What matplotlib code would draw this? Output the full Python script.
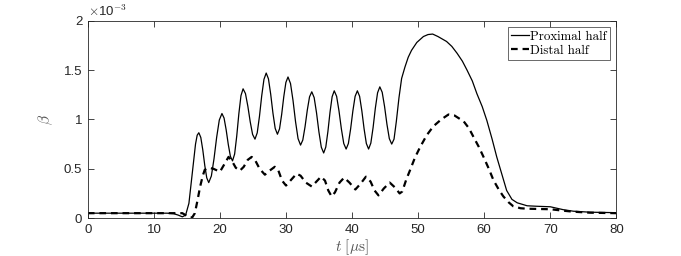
import matplotlib
matplotlib.use("Agg")
import matplotlib.pyplot as plt

# time [us] and beta [x1e-3]
t_prox = [0, 5, 10, 12, 13, 13.7, 14.3, 14.8, 15.3, 15.8, 16.3, 16.55, 16.8,
          17.1, 17.4, 17.7, 18.0, 18.3,
          18.7, 19.1, 19.5, 19.9, 20.3,
          20.62, 20.94, 21.26, 21.58, 21.9,
          22.22, 22.54, 22.86, 23.18, 23.5,
          23.86, 24.22, 24.58, 24.94, 25.3,
          25.64, 25.98, 26.32, 26.66, 27.0,
          27.34, 27.68, 28.02, 28.36, 28.7,
          29.02, 29.34, 29.66, 29.98, 30.3,
          30.68, 31.06, 31.44, 31.82, 32.2,
          32.54, 32.88, 33.22, 33.56, 33.9,
          34.26, 34.62, 34.98, 35.34, 35.7,
          36.02, 36.34, 36.66, 36.98, 37.3,
          37.66, 38.02, 38.38, 38.74, 39.1,
          39.44, 39.78, 40.12, 40.46, 40.8,
          41.14, 41.48, 41.82, 42.16, 42.5,
          42.84, 43.18, 43.52, 43.86, 44.2,
          44.56, 44.92, 45.28, 45.64, 46.0,
          46.35, 46.7, 47.1, 47.5, 48.0, 48.5,
          49.0, 49.8, 50.8, 51.5, 52.2, 53.0, 54.3, 55.1, 55.9, 56.7, 57.4, 58.2, 58.9, 59.7,
          60.4, 61.2, 61.9, 62.7, 63.4, 64.2, 65.0, 66.5, 68, 70, 72, 73.5, 76, 80]
b_prox = [0.05, 0.05, 0.05, 0.05, 0.045, 0.03, 0.013, 0.03, 0.15, 0.45, 0.75, 0.84, 0.865,
          0.817, 0.691, 0.534, 0.408, 0.36,
          0.427, 0.602, 0.819, 0.994, 1.06,
          1.014, 0.894, 0.746, 0.626, 0.58,
          0.649, 0.832, 1.058, 1.241, 1.31,
          1.262, 1.134, 0.976, 0.848, 0.80,
          0.864, 1.031, 1.239, 1.406, 1.47,
          1.411, 1.256, 1.064, 0.909, 0.85,
          0.905, 1.050, 1.230, 1.375, 1.43,
          1.364, 1.192, 0.978, 0.806, 0.74,
          0.791, 0.926, 1.094, 1.229, 1.28,
          1.221, 1.066, 0.874, 0.719, 0.66,
          0.720, 0.877, 1.073, 1.230, 1.29,
          1.234, 1.086, 0.904, 0.756, 0.70,
          0.756, 0.904, 1.086, 1.234, 1.29,
          1.234, 1.086, 0.904, 0.756, 0.70,
          0.760, 0.917, 1.113, 1.270, 1.33,
          1.275, 1.130, 0.950, 0.805, 0.75,
          0.80, 0.98, 1.22, 1.415, 1.53, 1.63,
          1.70, 1.78, 1.84, 1.86, 1.865, 1.84, 1.79, 1.74, 1.67, 1.59, 1.50, 1.39, 1.26, 1.13,
          0.99, 0.80, 0.62, 0.44, 0.28, 0.19, 0.155, 0.125, 0.12, 0.115, 0.085, 0.07, 0.06, 0.055]

t_dist = [0, 5, 10, 13, 14.3, 14.8, 15.2, 15.8, 16.2, 16.6, 17.0, 17.4, 17.7, 18.3, 19.0, 20.0,
          20.7, 21.3, 21.8, 22.4, 23.0, 23.6, 24.2, 24.8, 25.3, 26.0, 26.8, 27.5, 28.3, 28.8,
          29.4, 30.0, 30.8, 31.6, 32.2, 33.0, 33.9, 34.6, 35.3, 35.9, 36.4, 36.9, 37.4, 38.1,
          38.8, 39.6, 40.5, 41.3, 42.1, 42.8, 43.4, 44.0, 44.8, 45.7, 46.5, 47.2, 47.6, 48.2,
          48.8, 49.5, 50.3, 51.3, 52.3, 53.5, 54.6, 55.5, 56.2, 56.9, 57.7, 58.4, 59.2, 59.9,
          60.7, 61.4, 62.2, 62.9, 63.7, 64.4, 65.5, 66.5, 70, 72, 73.5, 76, 80]
b_dist = [0.05, 0.05, 0.05, 0.05, 0.05, 0.03, 0.01, 0.007, 0.05, 0.18, 0.32, 0.43, 0.49, 0.51, 0.50, 0.47,
          0.55, 0.62, 0.58, 0.51, 0.48, 0.52, 0.59, 0.62, 0.59, 0.50, 0.44, 0.48, 0.52, 0.49,
          0.38, 0.33, 0.39, 0.45, 0.43, 0.36, 0.32, 0.37, 0.42, 0.38, 0.28, 0.22, 0.26, 0.36,
          0.41, 0.36, 0.29, 0.35, 0.42, 0.37, 0.28, 0.23, 0.30, 0.36, 0.31, 0.25, 0.27, 0.39,
          0.49, 0.61, 0.72, 0.84, 0.93, 1.00, 1.05, 1.04, 1.01, 0.98, 0.91, 0.82, 0.72, 0.62,
          0.50, 0.385, 0.29, 0.22, 0.16, 0.12, 0.10, 0.095, 0.09, 0.075, 0.065, 0.055, 0.05]

xticks = [0, 10, 20, 30, 40, 50, 60, 70, 80]
yticks = [0, 0.5, 1, 1.5, 2]
yticklabels = ["0", "0.5", "1", "1.5", "2"]

plt.rcParams["font.family"] = ["Liberation Sans", "DejaVu Sans"]
plt.rcParams["mathtext.fontset"] = "cm"
dark = "#262626"

fig = plt.figure(figsize=(6.81, 2.56), dpi=100)
ax = fig.add_axes([0.129, 0.148, 0.776, 0.771])

ax.plot(t_prox, b_prox, color="black", lw=0.9, label="Proximal half")
ax.plot(t_dist, b_dist, color="black", lw=1.6, ls=(0, (3, 2.2)), label="Distal half")

ax.set_xlim(0, 80)
ax.set_ylim(0, 2)
ax.set_xticks(xticks)
ax.set_yticks(yticks)
ax.set_yticklabels(yticklabels)
ax.tick_params(direction="in", top=True, right=True, length=4, width=0.6,
               colors=dark, labelsize=9.5, pad=4)
for s in ax.spines.values():
    s.set_color(dark)
    s.set_linewidth(0.6)

ax.set_xlabel(r"$t\ [\mu\mathrm{s}]$", fontsize=11, color="#555555", labelpad=1)
ax.set_ylabel(r"$\beta$", fontsize=11, color="#555555", labelpad=6)
ax.text(0.0, 1.01, r"$\times$10$^{-3}$", transform=ax.transAxes, fontsize=9.5,
        color=dark, ha="left", va="bottom")

leg = ax.legend(loc="upper right", handlelength=1.35, handletextpad=0.1,
                borderpad=0.3, labelspacing=0.15, borderaxespad=0.45, fancybox=False,
                prop={"family": "cmr10", "size": 9.3})
leg.get_frame().set_edgecolor(dark)
leg.get_frame().set_linewidth(0.6)

fig.savefig("out.png", dpi=100)
